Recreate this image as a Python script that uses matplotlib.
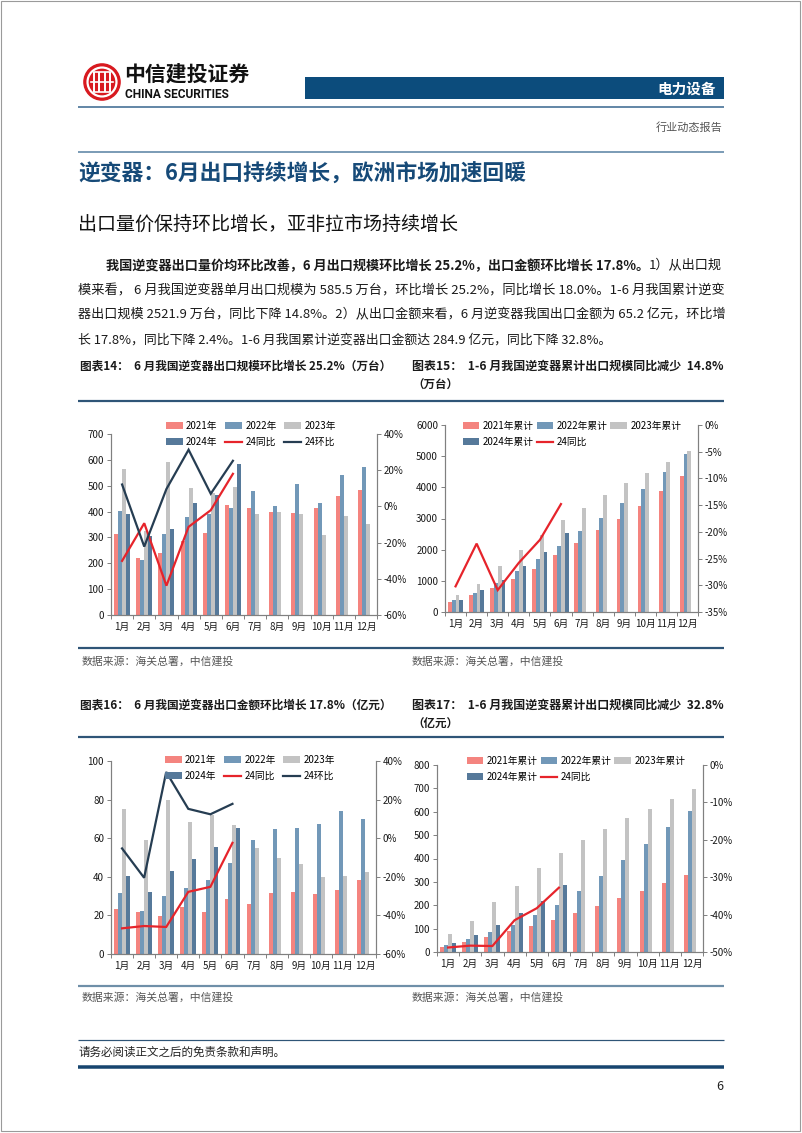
import matplotlib
matplotlib.use('Agg')
import matplotlib.pyplot as plt
import numpy as np
from matplotlib.patches import Rectangle, Circle
from matplotlib.lines import Line2D
from matplotlib.ticker import FuncFormatter, FixedLocator

plt.rcParams['font.family'] = ['Noto Sans CJK SC', 'DejaVu Sans']
plt.rcParams['axes.unicode_minus'] = False

# ---------------- data ----------------
months = ['1月', '2月', '3月', '4月', '5月', '6月', '7月', '8月', '9月', '10月', '11月', '12月']

# Chart 14: monthly export volume (万台)
vol_2021 = [312, 222, 241, 287, 316, 427, 413, 399, 394, 412, 460, 482]
vol_2022 = [403, 212, 315, 380, 390, 412, 479, 421, 506, 435, 541, 572]
vol_2023 = [563, 325, 591, 493, 470, 495, 390, 400, 390, 311, 381, 351]
vol_2024 = [391, 306, 332, 435, 466, 585.5]
vol_yoy = [-30.1, -9.3, -43.8, -11.3, -2.1, 18.0]
vol_mom = [12.1, -22.2, 9.6, 31.3, 7.0, 25.2]

# Chart 15: cumulative export volume (万台)
cum_vol_2021 = [310, 534, 768, 1067, 1377, 1814, 2209, 2615, 2999, 3415, 3874, 4354]
cum_vol_2022 = [395, 619, 928, 1302, 1697, 2124, 2583, 3020, 3511, 3949, 4493, 5059]
cum_vol_2023 = [555, 907, 1483, 1985, 2476, 2957, 3340, 3746, 4141, 4451, 4813, 5165]
cum_vol_2024 = [391, 694, 1035, 1473, 1932, 2521.9]
cum_vol_yoy = [-30.2, -22.2, -30.9, -25.8, -21.5, -14.8]

# Chart 16: monthly export value (亿元)
val_2021 = [23.1, 21.9, 19.7, 24.1, 21.9, 28.3, 25.9, 31.7, 31.9, 31.2, 33.4, 38.3]
val_2022 = [31.4, 22.1, 30.0, 34.3, 38.1, 47.4, 59.1, 65.0, 65.5, 67.2, 74.3, 70.2]
val_2023 = [75.3, 59.0, 80.0, 68.4, 72.0, 66.9, 54.8, 49.7, 46.4, 39.8, 40.2, 42.6]
val_2024 = [40.2, 31.9, 42.9, 49.3, 55.5, 65.2]
val_yoy = [-46.7, -45.5, -46.0, -27.8, -25.2, -2.4]
val_mom = [-5.3, -20.5, 34.3, 15.2, 12.4, 17.8]

# Chart 17: cumulative export value (亿元)
cum_val_2021 = [21, 44, 66, 88, 111, 137, 167, 197, 230, 261, 294, 331]
cum_val_2022 = [30, 55, 84, 116, 158, 202, 262, 327, 394, 461, 535, 605]
cum_val_2023 = [77, 134, 214, 284, 358, 422, 478, 528, 573, 613, 653, 696]
cum_val_2024 = [40, 72, 115, 165, 218, 284.9]
cum_val_yoy = [-48.8, -48.3, -48.4, -41.5, -38.3, -32.8]

bar_labels_m = ['2021年', '2022年', '2023年', '2024年']
bar_labels_c = ['2021年累计', '2022年累计', '2023年累计', '2024年累计']
line_labels = ['24同比', '24环比']

# ---------------- styling ----------------
C_BARS = ['#f4847f', '#7298b8', '#c3c3c3', '#56799a']
C_YOY = '#e6242b'
C_MOM = '#263d52'
NAVY = '#0c4c7c'
RULE = '#2f5577'
SPINE = '#808080'
TXT = '#1a1a1a'

W, H = 802, 1133
fig = plt.figure(figsize=(W / 100, H / 100), dpi=100)
fig.patch.set_facecolor('white')
renderer = fig.canvas.get_renderer()


def fx(x):
    return x / W


def fy(y):
    return 1 - y / H


def hline(y, x0, x1, color, lw_px):
    fig.add_artist(Line2D([fx(x0), fx(x1)], [fy(y), fy(y)], color=color,
                          lw=lw_px * 0.72, transform=fig.transFigure,
                          solid_capstyle='butt'))


def text_line(x, y, segments, size, justify_to=None, color=TXT, va='center'):
    """segments: list of (text, weight). Placed left to right."""
    def place(sz):
        objs = []
        cx = x
        for s, wgt in segments:
            t = fig.text(fx(cx), fy(y), s, fontsize=sz, fontweight=wgt,
                         color=color, ha='left', va=va)
            ext = t.get_window_extent(renderer)
            cx += ext.width
            objs.append(t)
        return objs, cx
    objs, end = place(size)
    if justify_to is not None:
        nat = end - x
        target = justify_to - x
        scale = min(max(target / nat, 0.85), 1.15)
        for o in objs:
            o.remove()
        objs, end = place(size * scale)
    return objs


# ---------------- page frame ----------------
fig.add_artist(Rectangle((fx(1), fy(1131)), fx(800) - fx(1), fy(1) - fy(1131),
                         transform=fig.transFigure, fill=False,
                         edgecolor='#9a9a9a', lw=0.8))

# ---------------- header ----------------
logo = fig.add_axes([fx(83), fy(102), fx(121) - fx(83), fy(62) - fy(102)])
logo.set_xlim(-1.05, 1.05)
logo.set_ylim(-1.05, 1.05)
logo.set_aspect('equal')
logo.axis('off')
logo.add_patch(Circle((0, 0), 1.0, color='#d8191f'))
logo.add_patch(Circle((0, 0), 0.80, fill=False, edgecolor='white', lw=1.6))
for xv in [-0.42, -0.14, 0.14, 0.42]:
    logo.plot([xv, xv], [-0.55, 0.55], color='white', lw=1.4, solid_capstyle='butt')
logo.plot([-0.62, 0.62], [0.0, 0.0], color='white', lw=1.2)
logo.plot([-0.42, 0.42], [0.55, 0.55], color='white', lw=1.2)
logo.plot([-0.42, 0.42], [-0.55, -0.55], color='white', lw=1.2)

fig.text(fx(124), fy(74), '中信建投证券', fontsize=15, fontweight='bold',
         color='#111111', ha='left', va='center')
fig.text(fx(125), fy(94), 'CHINA SECURITIES', fontsize=8.6, fontweight='bold',
         color='#111111', ha='left', va='center', family=['Roboto', 'DejaVu Sans'])

fig.add_artist(Rectangle((fx(305), fy(99)), fx(724) - fx(305), fy(77) - fy(99),
                         transform=fig.transFigure, color=NAVY, lw=0))
fig.text(fx(716), fy(88.5), '电力设备', fontsize=10.5, fontweight='bold',
         color='white', ha='right', va='center')
hline(107, 78, 724, '#3f6d93', 1.6)
fig.text(fx(722), fy(127), '行业动态报告', fontsize=8, color='#555555',
         ha='right', va='center')
hline(152, 78, 724, '#6f93b0', 1.8)

fig.text(fx(78), fy(174), '逆变器：6月出口持续增长，欧洲市场加速回暖', fontsize=15.7,
         fontweight='bold', color='#164a78', ha='left', va='center')
fig.text(fx(78), fy(224), '出口量价保持环比增长，亚非拉市场持续增长', fontsize=13.7,
         color='#111111', ha='left', va='center')

# ---------------- paragraph ----------------
BODY = 9.3
text_line(106, 266, [('我国逆变器出口量价均环比改善，6 月出口规模环比增长 25.2%，出口金额环比增长 17.8%。', 'bold'),
                     ('1）从出口规', 'normal')], BODY, justify_to=722)
text_line(78, 291, [('模来看， 6 月我国逆变器单月出口规模为 585.5 万台，环比增长 25.2%，同比增长 18.0%。1-6 月我国累计逆变', 'normal')],
          BODY, justify_to=722)
text_line(78, 315, [('器出口规模 2521.9 万台，同比下降 14.8%。2）从出口金额来看，6 月逆变器我国出口金额为 65.2 亿元，环比增', 'normal')],
          BODY, justify_to=722)
text_line(78, 340, [('长 17.8%，同比下降 2.4%。1-6 月我国累计逆变器出口金额达 284.9 亿元，同比下降 32.8%。', 'normal')],
          BODY)

# ---------------- captions ----------------
CAP = 8.3
text_line(80, 366, [('图表14：  6 月我国逆变器出口规模环比增长 25.2%（万台）', 'bold')], CAP, justify_to=392)
text_line(412, 366, [('图表15：  1-6 月我国逆变器累计出口规模同比减少  14.8%', 'bold')], CAP, justify_to=723)
text_line(412, 385, [('（万台）', 'bold')], CAP)
text_line(80, 705, [('图表16：  6 月我国逆变器出口金额环比增长 17.8%（亿元）', 'bold')], CAP, justify_to=392)
text_line(412, 705, [('图表17：  1-6 月我国逆变器累计出口规模同比减少  32.8%', 'bold')], CAP, justify_to=723)
text_line(412, 724, [('（亿元）', 'bold')], CAP)

hline(401, 78, 724, RULE, 2.2)
hline(648, 78, 724, RULE, 2.2)
hline(737, 78, 724, RULE, 2.2)
hline(986, 78, 724, '#6f8fa8', 2.2)

for (xx, yy) in [(82, 661), (412, 661), (82, 997), (412, 997)]:
    fig.text(fx(xx), fy(yy), '数据来源：海关总署，中信建投', fontsize=7.8, style='italic',
             color='#555555', ha='left', va='center')

# ---------------- footer ----------------
hline(1040, 78, 724, RULE, 1.2)
fig.text(fx(78), fy(1052), '请务必阅读正文之后的免责条款和声明。', fontsize=8.3,
         color='#222222', ha='left', va='center')
hline(1067, 78, 724, '#17456f', 3.5)
fig.text(fx(723), fy(1086), '6', fontsize=9, color='#222222', ha='right', va='center')


# ---------------- charts ----------------
def pct(v, pos):
    return f'{v:.0f}%'


def make_chart(l, r, t, b, bars, bar_labels, lines, line_lbls, line_cols,
               ylim, ystep, y2lim, y2step, leg_center, colspace):
    ax = fig.add_axes([fx(l), fy(b), fx(r) - fx(l), fy(t) - fy(b)])
    ax2 = ax.twinx()
    ax.set_zorder(1)
    ax2.set_zorder(2)
    ax.patch.set_visible(False)
    w = 0.18
    offs = [-1.5 * w, -0.5 * w, 0.5 * w, 1.5 * w]
    bh = []
    for i, vals in enumerate(bars):
        xi = np.arange(len(vals))
        h = ax.bar(xi + offs[i], vals, width=w, color=C_BARS[i], lw=0,
                   label=bar_labels[i], zorder=2)
        bh.append(h)
    lh = []
    for vals, lab, c in zip(lines, line_lbls, line_cols):
        ln, = ax2.plot(np.arange(len(vals)), vals, color=c, lw=1.6, label=lab,
                       solid_joinstyle='miter')
        lh.append(ln)
    ax.set_xlim(-0.5, 11.5)
    ax.set_ylim(*ylim)
    ax.set_yticks(np.arange(ylim[0], ylim[1] + ystep / 2, ystep))
    ax2.set_ylim(*y2lim)
    ax2.set_yticks(np.arange(y2lim[0], y2lim[1] + y2step / 2, y2step))
    ax2.yaxis.set_major_formatter(FuncFormatter(pct))
    ax.set_xticks(np.arange(12))
    ax.set_xticklabels(months)
    ax.xaxis.set_minor_locator(FixedLocator(np.arange(-0.5, 12, 1)))
    ax.tick_params(axis='x', which='major', length=0, labelsize=7, pad=5, colors=TXT)
    ax.tick_params(axis='x', which='minor', length=3, width=0.7, color=SPINE, direction='out')
    ax.tick_params(axis='y', length=3, width=0.7, color=SPINE, labelsize=7, pad=2,
                   labelcolor=TXT)
    ax2.tick_params(axis='y', length=3, width=0.7, color=SPINE, labelsize=7, pad=2,
                    labelcolor=TXT)
    for a in (ax, ax2):
        a.spines['top'].set_visible(False)
        for s in ('left', 'right', 'bottom'):
            a.spines[s].set_color(SPINE)
            a.spines[s].set_linewidth(0.8)
    # legend ordered so that rows read: bars 0-2 / bar 3 + lines
    if len(lh) == 2:
        hs = [bh[0], bh[3], bh[1], lh[0], bh[2], lh[1]]
    else:
        hs = [bh[0], bh[3], bh[1], lh[0], bh[2]]
    labs = [h.get_label() for h in hs]
    fig.legend(hs, labs, loc='center', ncol=3, frameon=False, fontsize=7,
               bbox_to_anchor=(fx(leg_center[0]), fy(leg_center[1])),
               bbox_transform=fig.transFigure, handlelength=1.7, handleheight=0.75,
               handletextpad=0.35, columnspacing=colspace, labelspacing=0.65,
               borderpad=0.1)
    return ax, ax2


make_chart(111, 377, 434, 615,
           [vol_2021, vol_2022, vol_2023, vol_2024], bar_labels_m,
           [vol_yoy, vol_mom], line_labels, [C_YOY, C_MOM],
           (0, 700), 100, (-60, 40), 20, (251, 434), 0.8)

make_chart(445, 698, 425, 612,
           [cum_vol_2021, cum_vol_2022, cum_vol_2023, cum_vol_2024], bar_labels_c,
           [cum_vol_yoy], line_labels[:1], [C_YOY],
           (0, 6000), 1000, (-35, 0), 5, (572, 434), 0.3)

make_chart(111, 376, 761, 954,
           [val_2021, val_2022, val_2023, val_2024], bar_labels_m,
           [val_yoy, val_mom], line_labels, [C_YOY, C_MOM],
           (0, 100), 20, (-60, 40), 20, (250, 768), 0.8)

make_chart(437, 703, 765, 952,
           [cum_val_2021, cum_val_2022, cum_val_2023, cum_val_2024], bar_labels_c,
           [cum_val_yoy], line_labels[:1], [C_YOY],
           (0, 800), 100, (-50, 0), 10, (576, 769), 0.3)

fig.savefig('out.png', dpi=100, facecolor='white')
